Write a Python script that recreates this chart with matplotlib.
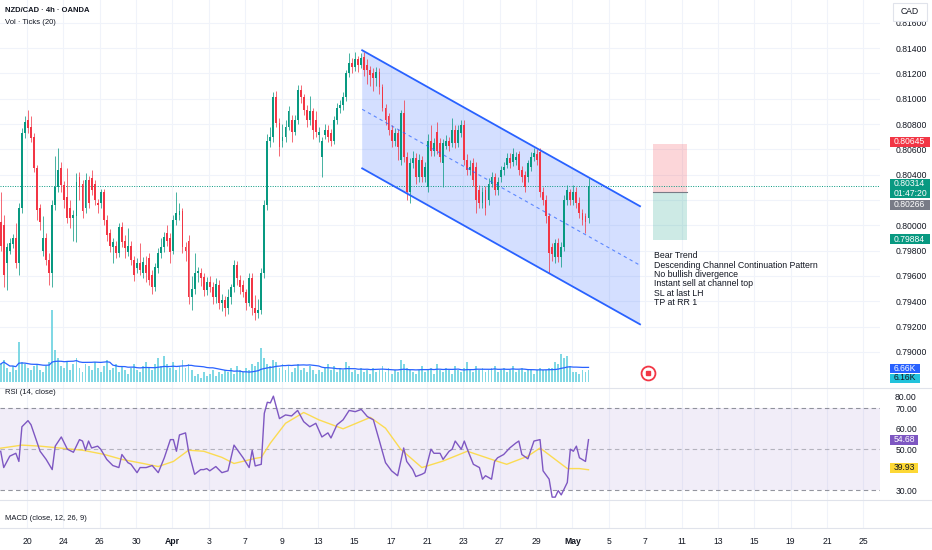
import matplotlib
matplotlib.use("Agg")
import matplotlib.pyplot as plt
from matplotlib.lines import Line2D
from matplotlib.patches import Rectangle
import numpy as np
import pandas as pd

plt.rcParams['font.family'] = ['Liberation Sans', 'DejaVu Sans']

# 4h candles, NZD/CAD (one row = 10 bars)
opens = [
    .8003, .8000, .7970, .7980, .7985, .7990, .7970, .8014, .8073, .8083,
    .8078, .8070, .8045, .8014, .7980, .7990, .7973, .7962, .8016, .8030,
    .8045, .8032, .8022, .8014, .8006, .8007, .8038, .8033, .8014, .8036,
    .8037, .8033, .8018, .8018, .8026, .8004, .7994, .7983, .7984, .7978,
    .7999, .7988, .7979, .7984, .7973, .7966, .7970, .7962, .7969, .7974,
    .7961, .7951, .7966, .7978, .7983, .7994, .7990, .7980, .8004, .8008,
    .8011, .7983, .7988, .7943, .7950, .7962, .7962, .7959, .7949, .7955,
    .7951, .7943, .7953, .7939, .7941, .7935, .7943, .7951, .7969, .7957,
    .7953, .7947, .7939, .7958, .7935, .7931, .7933, .7962, .8016, .8067,
    .8070, .8101, .8081, .8067, .8070, .8078, .8083, .8074, .8083, .8107,
    .8101, .8091, .8083, .8090, .8083, .8071, .8054, .8071, .8075, .8073,
    .8067, .8083, .8093, .8095, .8101, .8120, .8128, .8125, .8131, .8127,
    .8133, .8127, .8123, .8120, .8116, .8121, .8109, .8093, .8086, .8075,
    .8067, .8073, .8052, .8089, .8054, .8026, .8049, .8053, .8038, .8052,
    .8038, .8030, .8067, .8059, .8074, .8065, .8049, .8063, .8067, .8065,
    .8075, .8065, .8073, .8079, .8052, .8044, .8049, .8046, .8028, .8018,
    .8028, .8020, .8033, .8038, .8028, .8038, .8044, .8048, .8053, .8050,
    .8052, .8056, .8044, .8040, .8038, .8046, .8054, .8056, .8058, .8026,
    .8020, .8007, .7983, .7975, .7986, .7975, .7983, .8020, .8026, .8020,
    .8026, .8018, .8010, .8007, .8006,
]
highs = [
    .8026, .8008, .7986, .7990, .7993, .8002, .8018, .8077, .8086, .8091,
    .8086, .8073, .8048, .8017, .8007, .7994, .7978, .8020, .8055, .8061,
    .8050, .8035, .8045, .8020, .8012, .8041, .8042, .8036, .8041, .8039,
    .8044, .8036, .8021, .8029, .8029, .8008, .7997, .7990, .7988, .8002,
    .8003, .7992, .7998, .7988, .7976, .7974, .7986, .7975, .7976, .7978,
    .7965, .7970, .7982, .7990, .7995, .8000, .7994, .8008, .8026, .8018,
    .8014, .7987, .7992, .7960, .7978, .7967, .7966, .7962, .7959, .7960,
    .7955, .7958, .7957, .7946, .7944, .7950, .7954, .7973, .7972, .7961,
    .7957, .7950, .7962, .7962, .7945, .7942, .7966, .8020, .8072, .8078,
    .8105, .8106, .8085, .8080, .8083, .8094, .8087, .8087, .8111, .8111,
    .8104, .8095, .8102, .8093, .8090, .8078, .8070, .8080, .8079, .8076,
    .8086, .8097, .8099, .8105, .8123, .8136, .8132, .8137, .8134, .8136,
    .8137, .8131, .8126, .8124, .8125, .8124, .8112, .8096, .8089, .8079,
    .8077, .8076, .8091, .8099, .8058, .8053, .8059, .8057, .8056, .8055,
    .8050, .8072, .8079, .8069, .8082, .8069, .8068, .8071, .8070, .8085,
    .8079, .8079, .8083, .8083, .8056, .8052, .8053, .8050, .8032, .8030,
    .8031, .8037, .8042, .8041, .8038, .8047, .8050, .8057, .8057, .8061,
    .8058, .8059, .8047, .8043, .8052, .8058, .8061, .8060, .8061, .8030,
    .8024, .8010, .7986, .7989, .7990, .7987, .8024, .8032, .8029, .8032,
    .8030, .8022, .8013, .8010, .8037,
]
lows = [
    .7980, .7951, .7949, .7977, .7982, .7966, .7961, .8010, .8069, .8073,
    .8066, .8042, .8004, .7996, .7976, .7969, .7953, .7951, .8012, .8026,
    .8026, .8014, .8002, .7998, .7988, .7987, .8020, .8006, .8010, .8014,
    .8024, .8016, .8010, .8014, .8000, .7988, .7979, .7970, .7974, .7975,
    .7983, .7974, .7976, .7969, .7956, .7962, .7961, .7958, .7955, .7953,
    .7946, .7948, .7962, .7974, .7979, .7984, .7970, .7977, .8000, .8004,
    .7978, .7972, .7938, .7933, .7946, .7955, .7952, .7944, .7945, .7947,
    .7938, .7939, .7934, .7932, .7928, .7930, .7938, .7947, .7953, .7946,
    .7943, .7933, .7936, .7929, .7925, .7927, .7930, .7958, .8012, .8062,
    .8066, .8078, .8055, .8062, .8066, .8075, .8066, .8071, .8080, .8097,
    .8087, .8078, .8079, .8068, .8070, .8066, .8038, .8068, .8066, .8063,
    .8064, .8080, .8089, .8091, .8098, .8117, .8120, .8122, .8121, .8124,
    .8118, .8112, .8110, .8106, .8110, .8104, .8090, .8079, .8071, .8062,
    .8063, .8052, .8048, .8050, .8020, .8018, .8045, .8033, .8034, .8034,
    .8034, .8026, .8055, .8055, .8056, .8050, .8030, .8060, .8059, .8062,
    .8061, .8062, .8070, .8048, .8040, .8040, .8031, .8010, .8014, .8014,
    .8008, .8016, .8030, .8024, .8024, .8034, .8040, .8045, .8045, .8047,
    .8048, .8040, .8034, .8026, .8034, .8043, .8051, .8048, .8022, .8016,
    .8002, .7962, .7972, .7970, .7971, .7967, .7980, .8016, .8016, .8016,
    .8014, .8006, .8000, .7994, .8002,
]
closes = [
    .7984, .7961, .7983, .7986, .7990, .7970, .8014, .8073, .8082, .8077,
    .8069, .8045, .8012, .8003, .7990, .7973, .7962, .8016, .8030, .8044,
    .8032, .8020, .8006, .8006, .8008, .8034, .8030, .8011, .8036, .8018,
    .8028, .8020, .8016, .8026, .8004, .7992, .7984, .7987, .7978, .7999,
    .7987, .7982, .7984, .7973, .7961, .7970, .7965, .7971, .7962, .7957,
    .7951, .7967, .7978, .7983, .7991, .7988, .7979, .8004, .8010, .8011,
    .7983, .7980, .7943, .7950, .7962, .7964, .7958, .7949, .7955, .7951,
    .7943, .7954, .7939, .7941, .7935, .7943, .7951, .7969, .7958, .7951,
    .7947, .7939, .7958, .7935, .7931, .7933, .7962, .8016, .8067, .8070,
    .8101, .8081, .8062, .8070, .8078, .8090, .8074, .8083, .8107, .8101,
    .8091, .8083, .8090, .8075, .8074, .8074, .8067, .8075, .8070, .8067,
    .8083, .8093, .8095, .8101, .8120, .8128, .8125, .8131, .8127, .8132,
    .8123, .8123, .8119, .8116, .8121, .8109, .8093, .8083, .8075, .8067,
    .8073, .8062, .8089, .8054, .8026, .8049, .8053, .8038, .8052, .8038,
    .8046, .8067, .8059, .8065, .8059, .8054, .8065, .8067, .8063, .8075,
    .8065, .8075, .8079, .8052, .8044, .8046, .8036, .8020, .8018, .8026,
    .8014, .8033, .8038, .8028, .8034, .8044, .8046, .8053, .8049, .8056,
    .8054, .8044, .8038, .8030, .8049, .8054, .8057, .8052, .8026, .8020,
    .8007, .7978, .7977, .7986, .7975, .7983, .8020, .8028, .8020, .8026,
    .8018, .8010, .8004, .8003, .80314,
]
# tick volume in thousands
volume = [
    9, 11, 7, 5, 8, 6, 20, 10, 9, 7,
    6, 8, 9, 6, 5, 8, 10, 36, 16, 12,
    8, 7, 10, 6, 9, 12, 7, 5, 9, 8,
    6, 10, 7, 5, 8, 11, 6, 7, 9, 5,
    8, 6, 4, 7, 9, 6, 5, 8, 10, 7,
    6, 9, 12, 8, 13, 9, 7, 10, 6, 8,
    11, 7, 9, 6, 3, 4, 2, 5, 3, 4,
    6, 3, 5, 4, 6, 5, 7, 4, 8, 6,
    5, 7, 6, 9, 8, 10, 17, 12, 9, 8,
    11, 10, 7, 9, 6, 8, 5, 7, 9, 6,
    7, 5, 8, 6, 4, 6, 5, 7, 9, 6,
    8, 5, 7, 6, 10, 8, 5, 6, 4, 7,
    5, 6, 4, 7, 5, 6, 8, 5, 7, 4,
    6, 5, 11, 9, 7, 6, 5, 4, 6, 8,
    5, 6, 7, 4, 9, 6, 5, 7, 6, 4,
    8, 6, 5, 7, 10, 6, 5, 8, 6, 7,
    5, 6, 7, 8, 5, 6, 7, 5, 6, 8,
    5, 6, 7, 5, 6, 6, 4, 6, 7, 6,
    6, 7, 7, 10, 9, 14, 12, 13, 8, 5,
    5, 4, 6, 5, 6.16,
]

# RSI(14) and its MA, read at bar positions
rsi_bar = [0, 1, 3, 5, 6, 7, 9, 10, 13, 15, 17, 18, 20, 22, 24, 26, 27, 28, 29, 30,
           32, 33, 35, 37, 39, 40, 42, 43, 45, 46, 48, 50, 52, 54, 56, 57, 58, 59, 61, 62,
           64, 66, 67, 68, 69, 71, 73, 75, 77, 80, 82, 83, 84, 86, 87, 88, 89, 90, 92, 94,
           96, 98, 100, 102, 104, 106, 108, 109, 111, 113, 115, 117, 119, 121, 123, 125,
           127, 129, 131, 133, 134, 136, 137, 139, 140, 142, 143, 145, 146, 148, 149, 150,
           152, 153, 154, 156, 158, 159, 160, 162, 163, 164, 166, 168, 170, 171, 172, 174,
           176, 178, 179, 181, 182, 183, 184, 185, 187, 188, 189, 190, 191, 193, 194]
rsi_val = [49, 41, 46.6, 48, 44, 61, 64, 62, 49, 45, 40, 51.5, 56, 50, 48.5, 54.7, 54, 49.5, 54, 50.6,
           51.5, 50, 45, 42, 41, 47.4, 43.4, 42.6, 38.5, 41, 41, 42, 38.5, 45.8, 54.7, 54.7, 49, 57, 58, 49,
           37.7, 40, 40, 40.5, 39.4, 41.5, 38.5, 39.4, 52, 45.8, 41, 49.5, 41.8, 42.6, 67.6, 73, 72.7, 76, 65, 66.8,
           66.3, 69, 63.5, 61, 62.7, 56, 58, 55.5, 62, 64.4, 69, 68.4, 69.5, 66, 64.4, 54,
           43.4, 39.4, 37, 50.6, 44, 40, 36.6, 37.7, 38.5, 50, 48, 48, 45, 49, 50, 54,
           50, 54, 50, 42.6, 41, 35.3, 37, 35.3, 44, 45.8, 47.4, 50.6, 53, 54, 47.4, 45.3,
           54, 54.7, 39.4, 35.3, 26.5, 26.5, 29.7, 27.6, 33.7, 50, 49, 51.5, 45.8, 44, 54.68]
rsi_ma_bar = [0, 7, 13, 20, 27, 34, 40, 47, 52, 57, 62, 67, 73, 77, 84, 86, 89, 94, 100, 105,
              113, 122, 127, 132, 139, 146, 154, 162, 167, 174, 178, 183, 187, 191, 194]
rsi_ma_val = [50.5, 52, 51.5, 50.5, 49.5, 47.5, 45, 43, 41.5, 44, 49.5, 49, 46, 43, 45.5, 46, 53, 62.7, 68, 64.4,
              60, 65.6, 60.3, 50, 41, 44.2, 49, 45, 42.6, 46.6, 50.6, 45, 40.5, 40.5, 39.93]

date_labels = ["20", "24", "26", "30", "Apr", "3", "7", "9", "13", "15", "17", "21",
               "23", "27", "29", "May", "5", "7", "11", "13", "15", "19", "21", "25"]
price_ticks = [0.790, 0.792, 0.794, 0.796, 0.798, 0.800, 0.802, 0.804,
               0.806, 0.808, 0.810, 0.812, 0.814, 0.816]
price_hidden = [0.802]          # covered by the price tags on the scale
rsi_ticks = [30, 50, 60, 70]

# drawings
chan_x = (119.3, 211.0)
chan_top = (0.81383, 0.80151)
chan_bot = (0.80450, 0.79218)
pos_x = (215.3, 226.5)
entry, stop, target = 0.80266, 0.80645, 0.79884
last_price = 0.80314
notes = ["Bear Trend", "Descending Channel Continuation Pattern", "No bullish divergence",
         "Instant sell at channel top", "SL at last LH", "TP at RR 1"]

UP, DOWN = '#089981', '#F23645'
TXT = '#131722'
GRID = '#f0f3fa'
FS = 6.2
HFS = 5.5

W, H = 932, 550
fig = plt.figure(figsize=(W / 100, H / 100), dpi=100)


def pane(top, bottom, right=880):
    return [0, 1 - bottom / H, right / W, (bottom - top) / H]


ax = fig.add_axes(pane(0, 388))
ax_rsi = fig.add_axes(pane(388, 500), sharex=ax)
ax_macd = fig.add_axes(pane(500, 528), sharex=ax)
ax_vol = fig.add_axes(pane(0, 388), sharex=ax)
ax_vol.patch.set_visible(False)
ax_vol.axis('off')

ax.set_xlim(-0.23, 290.2)
ax.set_ylim(0.78715, 0.8178)
ax_rsi.set_ylim(25.1, 80)
ax_macd.set_ylim(0, 1)
ax_vol.set_ylim(-3, 191)

tick_pos = [8.7 + 12 * k for k in range(len(date_labels))]
for a in (ax, ax_rsi, ax_macd):
    for s in a.spines.values():
        s.set_visible(False)
    a.set_xticks(tick_pos)
    a.tick_params(axis='x', length=0, labelbottom=False)
    a.tick_params(axis='y', length=0, pad=11, labelsize=FS, labelcolor=TXT)
    a.yaxis.tick_right()
    for t in tick_pos:
        a.axvline(t, color=GRID, lw=0.8, zorder=0)

# price pane
ax.set_yticks(price_ticks)
ax.set_yticklabels(["" if p in price_hidden else f"{p:.5f}" for p in price_ticks])
for p in price_ticks:
    ax.axhline(p, color=GRID, lw=0.8, zorder=0)

idx = np.arange(len(closes))
o, h, l, c = map(np.array, (opens, highs, lows, closes))
cols = np.where(c >= o, UP, DOWN)
ax.vlines(idx, l, h, colors=cols, lw=0.7, alpha=0.75, zorder=3)
ax.bar(idx, np.maximum(np.abs(c - o), 0.00003), bottom=np.minimum(o, c),
       width=0.62, color=cols, lw=0, zorder=4)

# channel
ax.fill([chan_x[0], chan_x[1], chan_x[1], chan_x[0]],
        [chan_top[0], chan_top[1], chan_bot[1], chan_bot[0]],
        color='#2962FF', alpha=0.2, lw=0, zorder=1)
ax.plot(chan_x, chan_top, color='#2962FF', lw=1.3, zorder=5)
ax.plot(chan_x, chan_bot, color='#2962FF', lw=1.3, zorder=5)
ax.plot(chan_x, [(chan_top[0] + chan_bot[0]) / 2, (chan_top[1] + chan_bot[1]) / 2],
        color='#2962FF', lw=0.8, ls=(0, (3, 3)), alpha=0.7, zorder=5)

# short position box
ax.fill_between(pos_x, entry, stop, color=DOWN, alpha=0.2, lw=0, zorder=1)
ax.fill_between(pos_x, target, entry, color=UP, alpha=0.2, lw=0, zorder=1)
ax.plot(pos_x, [entry, entry], color='#787B86', lw=0.8, zorder=2)

ax.axhline(last_price, color=UP, lw=0.7, ls=(0, (1, 1.5)), zorder=2)

ax.text(215.6, 0.79797, "\n".join(notes), fontsize=6.3, color=TXT,
        ha='left', va='top', linespacing=1.07, zorder=6)

# event icon
ax.plot(213.6, 0.78833, marker='o', ms=10, mfc='white', mec=DOWN, mew=1.3, zorder=6)
ax.plot(213.6, 0.78833, marker='s', ms=2.5, color=DOWN, zorder=7)

# volume
vol = np.array(volume, dtype=float)
ax_vol.bar(idx, vol, width=0.62, color='#80d8e4', lw=0)
ax_vol.plot(idx, pd.Series(vol).rolling(20, min_periods=1).mean(), color='#2962FF', lw=0.9)

# RSI pane
ax_rsi.axhspan(30, 70, color='#7E57C2', alpha=0.1, lw=0, zorder=0)
for lvl, al in ((70, 0.8), (50, 0.5), (30, 0.8)):
    ax_rsi.axhline(lvl, color='#787B86', lw=0.8, ls=(0, (4, 3)), alpha=al)
ax_rsi.plot(rsi_ma_bar, rsi_ma_val, color='#FDD835', lw=1, alpha=0.85)
ax_rsi.plot(rsi_bar, rsi_val, color='#7E57C2', lw=1)
ax_rsi.set_yticks(rsi_ticks)
ax_rsi.set_yticklabels([f"{v:.2f}" for v in rsi_ticks])

# MACD pane carries the date axis
ax_macd.set_yticks([])
ax_macd.tick_params(axis='x', labelbottom=True, labelsize=FS, labelcolor=TXT, pad=6.5)
ax_macd.set_xticklabels(date_labels)
for lab in ax_macd.get_xticklabels():
    if lab.get_text() in ("Apr", "May"):
        lab.set_fontweight('bold')

# pane separators
for yy in (388, 500, 528):
    fig.add_artist(Line2D([0, 1], [1 - yy / H] * 2, color='#e0e3eb', lw=0.8))

# headers
fig.text(5 / W, 1 - 11 / H, "NZD/CAD · 4h · OANDA", fontsize=HFS, fontweight='bold',
         color=TXT, va='center')
fig.text(5 / W, 1 - 22.5 / H, "Vol · Ticks (20)", fontsize=HFS, color=TXT, va='center')
fig.text(5 / W, 1 - 393 / H, "RSI (14, close)", fontsize=HFS, color=TXT, va='center')
fig.text(5 / W, 1 - 518 / H, "MACD (close, 12, 26, 9)", fontsize=HFS, color=TXT, va='center')
fig.text(895 / W, 1 - 397 / H, "80.00", fontsize=FS, color=TXT, va='center')

# currency box, partly covering the top scale label
fig.add_artist(Rectangle((893 / W, 1 - 21 / H), 34 / W, 18 / H, transform=fig.transFigure,
                         fc='white', ec='#e0e3eb', lw=0.8, zorder=9))
fig.text(910 / W, 1 - 12 / H, "CAD", fontsize=FS, color=TXT, ha='center', va='center', zorder=10)

# scale tags: (lines, top px, bottom px, width px, fill, text colour)
tags = [
    (["0.80645"], 137, 147, 40, DOWN, 'white'),
    (["0.80314", "01:47:20"], 179, 198.5, 40, UP, 'white'),
    (["0.80266"], 199.5, 209.5, 40, '#787B86', 'white'),
    (["0.79884"], 234, 244, 40, UP, 'white'),
    (["6.66K"], 364, 373, 30, '#2962FF', 'white'),
    (["6.16K"], 373.5, 382.5, 30, '#22c3dc', TXT),
    (["54.68"], 434.5, 444.5, 28, '#7E57C2', 'white'),
    (["39.93"], 463, 473, 28, '#FDD835', TXT),
]
for lines, top, bot, wid, fc, tc in tags:
    fig.add_artist(Rectangle((890 / W, 1 - bot / H), wid / W, (bot - top) / H,
                             transform=fig.transFigure, fc=fc, ec='none', zorder=9))
    step = (bot - top) / len(lines)
    for k, txt in enumerate(lines):
        fig.text(894 / W, 1 - (top + step * (k + 0.5)) / H, txt, fontsize=FS, color=tc,
                 ha='left', va='center', zorder=10)

fig.savefig("out.png", dpi=100)
